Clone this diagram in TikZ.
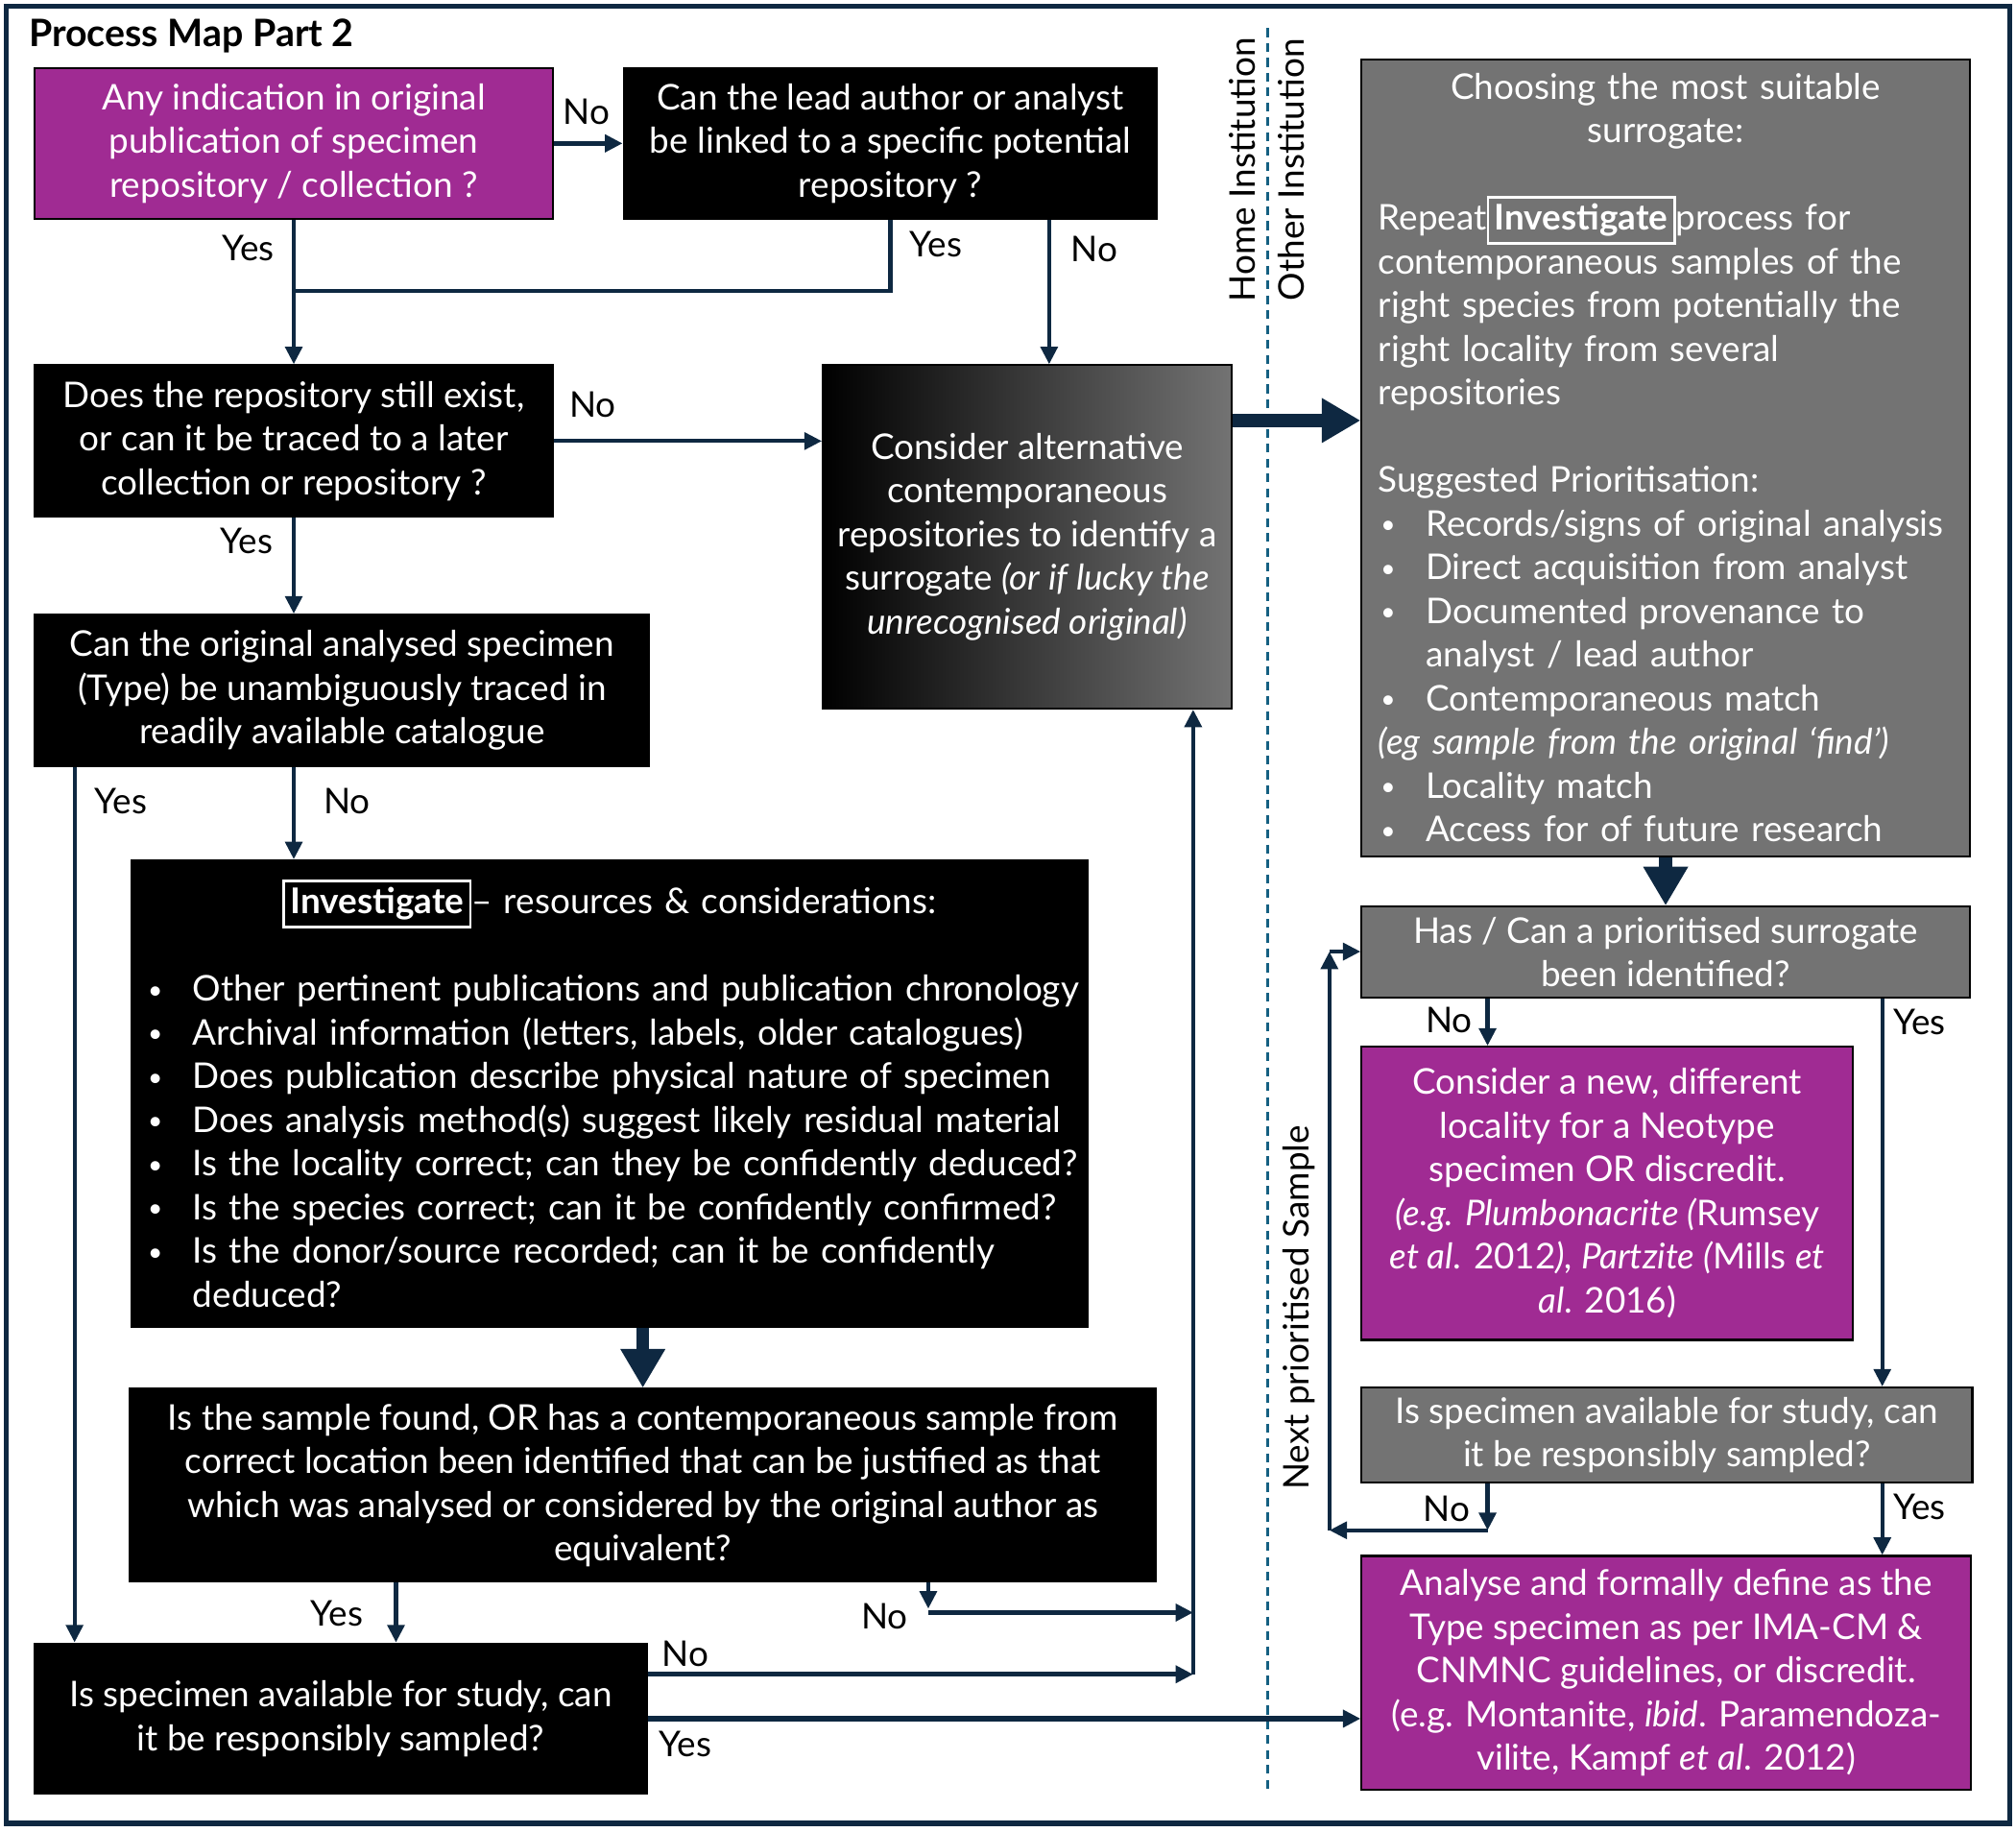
\documentclass[tikz,border=0pt]{standalone}
\usepackage{fontspec}
\setmainfont{Lato}
\usetikzlibrary{arrows.meta, positioning, calc}
\definecolor{navy}{HTML}{0E2841}
\definecolor{mapPurple}{HTML}{A02B93}
\definecolor{mapGrey}{HTML}{737373}
\definecolor{mapTeal}{HTML}{156082}
\newlength{\pxl}\setlength{\pxl}{0.013393cm}
\newlength{\bls}\setlength{\bls}{12.95pt}
\newcommand{\bul}[1][0]{\hspace*{#1\pxl}\makebox[35\pxl][l]{\raisebox{0.8pt}{\fontsize{7.5}{7.5}\selectfont\textbullet}}\ignorespaces}
\setlength{\fboxsep}{1.5pt}
\setlength{\fboxrule}{0.8pt}
\hyphenpenalty=10000

\begin{document}
\begin{tikzpicture}[x=\pxl, y=-\pxl,
  >={Triangle[length=5.2pt,width=5pt]},
  txt/.style={font=\fontsize{10.5}{12.95}\selectfont},
  sz/.style 2 args={minimum width={#1*\pxl}, minimum height={#2*\pxl}},
  box/.style={txt, draw=black, line width=0.6pt, text=white, align=center, inner sep=0pt},
  blackbox/.style={box, fill=black},
  purplebox/.style={box, fill=mapPurple},
  greybox/.style={box, fill=mapGrey},
  lbl/.style={txt, text=black, inner sep=0pt},
  arr/.style={draw=navy, line width=1.2pt, ->},
  link/.style={draw=navy, line width=1.2pt},
  bigarr/.style={draw=navy, line width=3.8pt, -{Triangle[length=11.5pt,width=12.5pt]}},
]

% page and frame
\useasboundingbox (0,0) rectangle (1568,1424);
\draw[navy, line width=1.5pt] (5,5) rectangle (1563,1418);
\node[txt, font=\fontsize{11.2}{13}\selectfont\bfseries, anchor=west, inner sep=0pt] (title) at (22,28) {Process Map Part 2};

% institution divider
\coordinate (divTop) at (986,22);
\coordinate (divBot) at (986,1395);
\draw[mapTeal, line width=0.9pt, dash pattern=on 2.6pt off 1.8pt] (divTop) -- (divBot);
\node[lbl, rotate=90] (home) at (966,132) {Home Institution};
\node[lbl, rotate=90] (other) at (1004,132) {Other Institution};

% --- left column ---
\node[purplebox, sz={403}{117}] (indic) at (228.5,111.5)
  {Any indication in original\\publication of specimen\\repository / collection ?};
\node[blackbox, sz={415}{117}] (linked) at (692.5,111.5)
  {Can the lead author or analyst\\be linked to a specific potential\\repository ?};
\node[blackbox, sz={403}{118}] (exist) at (228.5,343)
  {Does the repository still exist,\\or can it be traced to a later\\collection or repository ?};
\node[box, left color=black, right color=mapGrey, sz={318}{267}] (alt) at (799,417.5)
  {Consider alternative\\contemporaneous\\repositories to identify a\\surrogate \textit{(or if lucky the}\\\textit{unrecognised original)}};
\node[blackbox, sz={478}{118}] (traced) at (266,537)
  {Can the original analysed specimen\\(Type) be unambiguously traced in\\readily available catalogue};
\node[blackbox, sz={744}{363}, align=left, text width={742*\pxl}] (invest) at (474,850.5)
  {\makebox[\hsize][c]{\fbox{\textbf{Investigate}}– resources \& considerations:}\\[\bls]
   \bul[12] Other pertinent publications and publication chronology\\
   \bul[12] Archival information (letters, labels, older catalogues)\\
   \bul[12] Does publication describe physical nature of specimen\\
   \bul[12] Does analysis method(s) suggest likely residual material\\
   \bul[12] Is the locality correct; can they be confidently deduced?\\
   \bul[12] Is the species correct; can it be confidently confirmed?\\
   \bul[12] Is the donor/source recorded; can it be confidently\\
   \hspace*{47\pxl}deduced?};
\node[blackbox, sz={798}{150}] (found) at (500,1155)
  {Is the sample found, OR has a contemporaneous sample from\\correct location been identified that can be justified as that\\which was analysed or considered by the original author as\\equivalent?};
\node[blackbox, sz={476}{117}] (avail) at (265,1336.5)
  {Is specimen available for study, can\\it be responsibly sampled?};

% --- right column ---
\node[greybox, sz={473}{620}, align=left, text width={447*\pxl}] (choose) at (1295.5,356)
  {\makebox[\hsize][c]{Choosing the most suitable}\\
   \makebox[\hsize][c]{surrogate:}\\[\bls]
   Repeat\fbox{\textbf{Investigate}}process for\\
   contemporaneous samples of the\\
   right species from potentially the\\
   right locality from several\\
   repositories\\[\bls]
   Suggested Prioritisation:\\
   \bul[2] Records/signs of original analysis\\
   \bul[2] Direct acquisition from analyst\\
   \bul[2] Documented provenance to\\
   \hspace*{37\pxl}analyst / lead author\\
   \bul[2] Contemporaneous match\\
   \textit{(eg sample from the original ‘find’)}\\
   \bul[2] Locality match\\
   \bul[2] Access for of future research};
\node[greybox, sz={473}{71}] (prior) at (1295.5,740.5)
  {Has / Can a prioritised surrogate\\been identified?};
\node[purplebox, sz={382}{228}] (neotype) at (1250,928)
  {Consider a new, different\\locality for a Neotype\\specimen OR discredit.\\
   \textit{(e.g. Plumbonacrite (}Rumsey\\\textit{et al}. 2012\textit{), Partzite (}Mills \textit{et}\\\textit{al}. 2016)};
\node[greybox, sz={475}{74}] (availR) at (1296.5,1116)
  {Is specimen available for study, can\\it be responsibly sampled?};
\node[purplebox, sz={474}{182}] (define) at (1296,1301)
  {Analyse and formally define as the\\Type specimen as per IMA-CM \&\\CNMNC guidelines, or discredit.\\
   (e.g. Montanite, \textit{ibid}. Paramendoza-\\vilite, Kampf \textit{et al}. 2012)};

% bend points
\coordinate (join) at (228.5,226);
\coordinate (bNo) at (816,0);
\coordinate (yesX) at (58,0);
\coordinate (gYes) at (308,0);
\coordinate (gNo) at (722,1251);
\coordinate (upX) at (928,0);
\coordinate (hNo) at (0,1302);
\coordinate (eOut) at (0,327);
\coordinate (noR) at (1157,0);
\coordinate (yesR) at (1464,0);
\coordinate (loopA) at (1157,1190);
\coordinate (loopB) at (1034,1190);
\coordinate (loopC) at (1034,740);

% --- connectors, left ---
\draw[arr, line width=1.6pt] (indic.east) -- (linked.west);
\draw[arr] (indic.south) -- (exist.north);
\draw[link] (linked.south) |- (join);
\draw[arr] (linked.south -| bNo) -- (alt.north -| bNo);
\draw[arr] (exist.east) -- (exist.east -| alt.west);
\draw[arr] (exist.south) -- (exist.south |- traced.north);
\draw[arr] (traced.south -| yesX) -- (avail.north -| yesX);
\draw[arr] (traced.south -| exist.south) -- (invest.north -| exist.south);
\draw[bigarr] (invest.south -| found.north) -- (found.north);
\draw[arr] (found.south -| gYes) -- (avail.north -| gYes);
\draw[arr] (found.south -| gNo) -- (gNo);
\draw[arr, line width=1.6pt] ([yshift=-3\pxl]gNo) -- ([yshift=-3\pxl]gNo -| upX);
\draw[arr, line width=1.5pt] (avail.east |- hNo) -- (hNo -| upX);
\draw[arr] (hNo -| upX) -- (alt.south -| upX);
\draw[arr, line width=1.5pt] (avail.east) -- (avail.east -| define.west);
\draw[bigarr] (alt.east |- eOut) -- (choose.west |- eOut);

% --- connectors, right ---
\draw[bigarr] (choose.south) -- (prior.north);
\draw[arr] (prior.south -| noR) -- (neotype.north -| noR);
\draw[arr] (prior.south -| yesR) -- (availR.north -| yesR);
\draw[arr] (availR.south -| noR) -- (loopA);
\draw[arr] (loopA) -- (loopB);
\draw[arr] (loopB) -- (loopC);
\draw[arr] (loopC) -- (loopC -| prior.west);
\draw[arr] (availR.south -| yesR) -- (define.north -| yesR);
\node[lbl, rotate=90] (next) at (1010,1017) {Next prioritised Sample};

% yes / no labels
\node[lbl] (no1) at (456,87) {No};
\node[lbl] (yes1) at (193,193) {Yes};
\node[lbl] (yes2) at (728,190) {Yes};
\node[lbl] (no2) at (851,194) {No};
\node[lbl] (no3) at (461,315) {No};
\node[lbl] (yes3) at (192,421) {Yes};
\node[lbl] (yes4) at (94,623) {Yes};
\node[lbl] (no4) at (270,623) {No};
\node[lbl] (yes5) at (262,1255) {Yes};
\node[lbl] (no5) at (688,1257) {No};
\node[lbl] (no6) at (533,1286) {No};
\node[lbl] (yes6) at (533,1356) {Yes};
\node[lbl] (no7) at (1127,793) {No};
\node[lbl] (yes7) at (1493,795) {Yes};
\node[lbl] (no8) at (1125,1173) {No};
\node[lbl] (yes8) at (1493,1172) {Yes};

\end{tikzpicture}
\end{document}
